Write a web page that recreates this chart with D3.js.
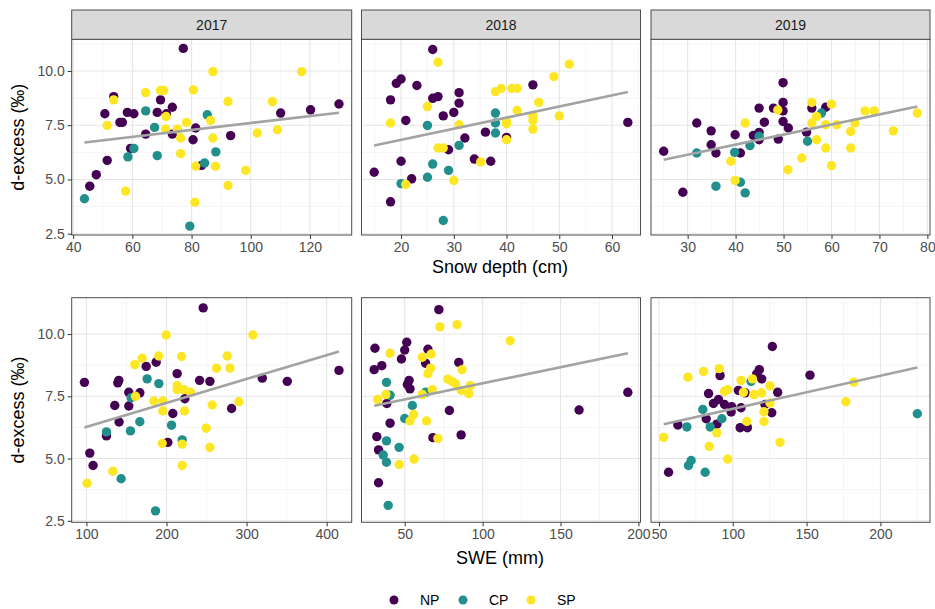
<!DOCTYPE html>
<html>
<head>
<meta charset="utf-8">
<script src="https://cdn.jsdelivr.net/npm/d3@7"></script>
<style>
  body { margin: 0; background: #fff; }
  text { font-family: "Liberation Sans", Arial, sans-serif; }
</style>
</head>
<body>
<svg id="chart" width="935" height="609"></svg>
<script>
// sites and their colours (viridis, 3 levels)
var sites = ["NP", "CP", "SP"];
var siteColors = ["#440154", "#21908C", "#FDE725"];
var years = ["2017", "2018", "2019"];

// tick labels
var yTicks = [2.5, 5.0, 7.5, 10.0];
var depthTicks2017 = [40, 60, 80, 100, 120];
var depthTicks2018 = [20, 30, 40, 50, 60];
var depthTicks2019 = [30, 40, 50, 60, 70, 80];
var sweTicks2017 = [100, 200, 300, 400];
var sweTicks2018 = [50, 100, 150, 200];
var sweTicks2019 = [50, 100, 150, 200];

// snow depth (cm) vs d-excess, [x, y]
var depth2017NP = [[77.2,11.04],[53.7,8.82],[50.7,8.03],[58.3,8.09],[60.5,8.03],[55.8,7.63],[56.6,7.63],[69.5,8.67],[68.4,8.09],[71.5,8.03],[73.5,8.33],[64.5,7.09],[73.5,7.09],[81.4,7.37],[80.5,6.83],[59.4,6.43],[51.5,5.88],[47.8,5.22],[45.6,4.69],[83.4,5.65],[93.2,7.02],[110.1,8.06],[120.2,8.21],[129.8,8.48]];
var depth2017CP = [[43.8,4.11],[58.5,6.04],[60.5,6.43],[64.5,8.16],[67.5,7.40],[68.4,6.10],[85.3,7.98],[84.4,5.76],[88.2,6.27],[79.4,2.85]];
var depth2017SP = [[53.7,8.67],[51.5,7.49],[64.5,9.0],[69.5,9.1],[70.6,9.1],[71.4,7.9],[71.2,7.32],[75.2,7.32],[78.3,7.63],[76.3,6.91],[76.3,6.19],[80.6,9.13],[87.2,9.97],[86.4,7.72],[87.2,6.91],[81.4,5.61],[88.1,5.61],[81.1,3.95],[57.7,4.46],[92.3,8.59],[92.3,4.72],[98.3,5.42],[102.2,7.14],[107.3,8.59],[109.0,7.29],[117.2,9.97]];

var depth2018NP = [[26.0,10.99],[20,9.63],[19.1,9.43],[23.0,9.33],[18.0,8.67],[26.0,8.74],[27.0,8.82],[31.0,9.0],[31.0,8.52],[30.0,8.09],[28.0,7.93],[20.9,7.72],[45.0,9.36],[36.0,7.18],[32.1,6.91],[40.0,6.94],[29.0,6.37],[33.9,5.94],[37.0,5.84],[20,5.84],[14.9,5.33],[22.0,5.03],[18.0,3.97],[63.0,7.63]];
var depth2018CP = [[25.0,7.49],[37.9,8.06],[37.9,7.60],[37.9,7.14],[31.0,6.57],[26.0,5.71],[29.0,5.42],[25.0,5.10],[20.0,4.81],[28.0,3.11]];
var depth2018SP = [[27.0,10.40],[18.0,7.60],[25.0,8.36],[27.0,6.45],[28.0,6.45],[31.0,7.52],[35.1,5.81],[30.0,4.95],[20.9,4.77],[37.9,9.05],[39.0,9.20],[41.0,9.20],[42.0,9.20],[42.0,8.18],[40.0,7.67],[40.0,7.57],[40.0,6.83],[45.0,7.93],[45.0,7.72],[45.0,7.32],[46.1,8.55],[49.0,9.74],[50.0,7.93],[51.9,10.31]];

var depth2019NP = [[25.0,6.30],[31.9,7.60],[34.9,7.24],[34.9,6.60],[35.9,6.22],[29.0,4.41],[39.9,7.06],[41.0,6.22],[43.7,7.03],[44.9,8.29],[44.9,7.17],[44.9,6.83],[46.0,7.64],[47.9,8.29],[48.9,6.86],[49.9,9.46],[49.9,8.55],[49.9,8.16],[49.9,7.67],[51.0,7.37],[54.8,7.18],[55.9,8.29],[58.8,8.33]];
var depth2019CP = [[31.9,6.22],[39.8,6.25],[43.0,6.56],[44.9,6.99],[41.0,4.87],[35.9,4.69],[42.0,4.38],[55.0,6.76],[57.9,8.06]];
var depth2019SP = [[42.0,7.60],[39.0,5.84],[39.9,4.95],[48.8,8.2],[55.9,8.55],[56.9,7.9],[55.9,7.60],[60.0,8.47],[58.8,7.52],[61.1,7.52],[56.9,6.83],[58.8,6.45],[53.8,5.99],[50.9,5.45],[60.0,5.64],[64.9,7.60],[64.0,7.21],[64.0,6.45],[67.0,8.16],[68.9,8.16],[72.9,7.24],[77.9,8.06]];

// SWE (mm) vs d-excess, [x, y]
var swe2017NP = [[245.8,11.05],[97.5,8.06],[140.4,8.14],[139.2,8.04],[152.9,7.66],[166.7,7.64],[135.4,7.13],[152.9,7.11],[140.8,6.47],[174.6,8.70],[187.1,8.87],[213.3,8.41],[241.3,8.14],[254.2,8.10],[222.9,7.40],[207.9,6.81],[201.7,5.65],[125.0,5.91],[104.2,5.22],[108.3,4.72],[281.3,7.01],[319.6,8.23],[350.8,8.10],[415.4,8.54]];
var swe2017CP = [[125,6.07],[155.8,7.44],[155,6.11],[166.7,6.48],[175.8,8.20],[190.4,8.01],[206.3,6.34],[219.6,5.75],[143.3,4.19],[186.3,2.90]];
var swe2017SP = [[100.8,4.01],[132.9,4.49],[160.4,8.77],[169.6,9.03],[190.4,9.12],[199.6,9.96],[218.8,9.10],[161.3,7.5],[184.2,7.31],[195.4,7.31],[195.4,6.91],[194.6,5.61],[213.3,7.93],[213.3,7.77],[221.7,7.77],[230,7.66],[222.5,6.91],[219.6,5.58],[219.6,4.72],[249.6,6.22],[254.2,5.45],[257.1,7.15],[262.5,8.63],[275.8,9.12],[279.2,8.63],[290.4,7.28],[307.9,9.96]];

var swe2018NP = [[71.9,10.98],[30.9,9.43],[51.3,9.67],[50,9.36],[47.9,9.0],[30.4,8.57],[35.3,8.73],[64.9,9.39],[63.4,8.83],[84.7,8.86],[52.8,8.14],[51.7,7.97],[53.4,7.80],[38.5,7.21],[40.6,6.42],[78.7,6.93],[32.1,5.88],[33.2,5.35],[68.1,5.84],[86.2,5.95],[33.2,4.03],[161.9,6.95],[193.2,7.66]];
var swe2018CP = [[38.3,8.06],[40.6,7.54],[54.9,7.13],[50,6.61],[63.4,7.66],[38.3,5.71],[46.4,5.45],[36.2,5.14],[38.3,4.85],[39.4,3.12]];
var swe2018SP = [[72.6,10.29],[83.6,10.38],[117.7,9.73],[40.6,9.23],[61.3,9.07],[67.0,9.20],[66.6,8.63],[64.9,8.41],[86.8,8.57],[77.7,8.19],[80.4,8.10],[82.6,8.01],[92.1,7.93],[86.2,7.74],[91.1,7.61],[67.7,7.77],[61.3,7.57],[32.6,7.37],[37.9,7.57],[55.7,6.77],[53.4,6.51],[64.0,6.51],[71.3,5.81],[56.0,4.98],[46.4,4.76]];

var swe2019NP = [[126.8,9.50],[118.0,8.57],[116.2,8.40],[119.6,8.20],[91.4,8.33],[152.3,8.35],[83.6,7.61],[103.8,7.74],[108.3,7.64],[130.4,7.66],[86.9,7.21],[90.3,7.37],[94.4,7.17],[99.3,7.08],[98.9,6.87],[105.6,7.04],[121.8,7.17],[126.4,6.84],[82.0,6.60],[89.2,6.38],[105.0,6.24],[109.9,6.24],[62.8,6.35],[56.5,4.45]];
var swe2019CP = [[68.9,6.27],[79.7,6.97],[84.7,6.27],[92.6,6.60],[112.4,8.10],[71.8,4.92],[70.0,4.72],[81.3,4.45],[225,6.80]];
var swe2019SP = [[69.6,8.27],[80.2,8.50],[90.8,8.61],[105.6,8.14],[113.3,8.20],[94.4,7.70],[96.6,7.77],[107.2,7.66],[114.4,7.57],[119.6,7.64],[125.2,7.92],[125.2,7.23],[121.1,6.88],[121.1,6.49],[109.5,6.49],[89.2,6.03],[53.2,5.85],[84.0,5.49],[96.6,4.98],[132.0,5.65],[176.6,7.28],[182.0,8.07]];

// layout
var colX = [[71.7, 351.7], [361.5, 640.5], [651, 930]];
var rowY = [[39.3, 235], [297.7, 522.3]];
var stripTop = 10;

var panels = [
  {row: 0, col: 0, strip: years[0], groups: [depth2017NP, depth2017CP, depth2017SP], ticks: depthTicks2017},
  {row: 0, col: 1, strip: years[1], groups: [depth2018NP, depth2018CP, depth2018SP], ticks: depthTicks2018},
  {row: 0, col: 2, strip: years[2], groups: [depth2019NP, depth2019CP, depth2019SP], ticks: depthTicks2019},
  {row: 1, col: 0, groups: [swe2017NP, swe2017CP, swe2017SP], ticks: sweTicks2017},
  {row: 1, col: 1, groups: [swe2018NP, swe2018CP, swe2018SP], ticks: sweTicks2018},
  {row: 1, col: 2, groups: [swe2019NP, swe2019CP, swe2019SP], ticks: sweTicks2019}
];

var svg = d3.select("#chart");

// ggplot style 5% expansion
function expand(ext) {
  var pad = (ext[1] - ext[0]) * 0.05;
  return [ext[0] - pad, ext[1] + pad];
}

function minors(majors, domain) {
  var step = majors[1] - majors[0];
  var out = [];
  for (var v = majors[0] - step / 2; v <= domain[1]; v += step) {
    if (v >= domain[0]) out.push(v);
  }
  return out;
}

// shared y
var allY = [];
panels.forEach(function(p) {
  p.groups.forEach(function(g) { g.forEach(function(d) { allY.push(d[1]); }); });
});
var yDomain = expand(d3.extent(allY));
var yMinor = minors(yTicks, yDomain);

panels.forEach(function(p) {
  var x0 = colX[p.col][0], x1 = colX[p.col][1];
  var y0 = rowY[p.row][0], y1 = rowY[p.row][1];
  var all = d3.merge(p.groups);

  var xScale = d3.scaleLinear()
    .domain(expand(d3.extent(all, function(d) { return d[0]; })))
    .range([x0, x1]);
  var yScale = d3.scaleLinear()
    .domain(yDomain)
    .range([y1, y0]);

  var g = svg.append("g");

  g.append("rect")
    .attr("x", x0).attr("y", y0)
    .attr("width", x1 - x0).attr("height", y1 - y0)
    .attr("fill", "#fff");

  // minor grid
  minors(p.ticks, xScale.domain()).forEach(function(v) {
    g.append("line")
      .attr("x1", xScale(v)).attr("x2", xScale(v))
      .attr("y1", y0).attr("y2", y1)
      .attr("stroke", "#f0f0f0").attr("stroke-width", 0.7);
  });
  yMinor.forEach(function(v) {
    g.append("line")
      .attr("x1", x0).attr("x2", x1)
      .attr("y1", yScale(v)).attr("y2", yScale(v))
      .attr("stroke", "#f0f0f0").attr("stroke-width", 0.7);
  });
  // major grid
  p.ticks.forEach(function(v) {
    g.append("line")
      .attr("x1", xScale(v)).attr("x2", xScale(v))
      .attr("y1", y0).attr("y2", y1)
      .attr("stroke", "#e6e6e6").attr("stroke-width", 1.1);
  });
  yTicks.forEach(function(v) {
    g.append("line")
      .attr("x1", x0).attr("x2", x1)
      .attr("y1", yScale(v)).attr("y2", yScale(v))
      .attr("stroke", "#e6e6e6").attr("stroke-width", 1.1);
  });

  // points
  p.groups.forEach(function(grp, i) {
    g.selectAll(null)
      .data(grp)
      .enter()
      .append("circle")
      .attr("cx", function(d) { return xScale(d[0]); })
      .attr("cy", function(d) { return yScale(d[1]); })
      .attr("r", 4.7)
      .attr("fill", siteColors[i]);
  });

  // linear fit over all sites
  var mx = d3.mean(all, function(d) { return d[0]; });
  var my = d3.mean(all, function(d) { return d[1]; });
  var sxy = d3.sum(all, function(d) { return (d[0] - mx) * (d[1] - my); });
  var sxx = d3.sum(all, function(d) { return (d[0] - mx) * (d[0] - mx); });
  var slope = sxy / sxx;
  var xe = d3.extent(all, function(d) { return d[0]; });
  var fit = xe.map(function(v) { return [v, my + slope * (v - mx)]; });
  g.append("path")
    .datum(fit)
    .attr("d", d3.line()
      .x(function(d) { return xScale(d[0]); })
      .y(function(d) { return yScale(d[1]); }))
    .attr("fill", "none")
    .attr("stroke", "#a3a3a3")
    .attr("stroke-width", 2.6);

  // border
  g.append("rect")
    .attr("x", x0).attr("y", y0)
    .attr("width", x1 - x0).attr("height", y1 - y0)
    .attr("fill", "none")
    .attr("stroke", "#4d4d4d").attr("stroke-width", 1);

  // strip
  if (p.strip) {
    g.append("rect")
      .attr("x", x0).attr("y", stripTop)
      .attr("width", x1 - x0).attr("height", y0 - stripTop)
      .attr("fill", "#d9d9d9")
      .attr("stroke", "#4d4d4d").attr("stroke-width", 1);
    g.append("text")
      .attr("x", (x0 + x1) / 2).attr("y", (stripTop + y0) / 2)
      .attr("dy", "0.35em")
      .attr("text-anchor", "middle")
      .attr("font-size", 14)
      .attr("fill", "#1a1a1a")
      .text(p.strip);
  }

  // x axis
  var xAxis = g.append("g")
    .attr("transform", "translate(0," + y1 + ")")
    .call(d3.axisBottom(xScale).tickValues(p.ticks).tickSize(4).tickPadding(3));
  xAxis.select(".domain").remove();
  xAxis.selectAll(".tick line").attr("stroke", "#333");
  xAxis.selectAll(".tick text")
    .attr("fill", "#4d4d4d")
    .attr("font-size", 14)
    .attr("font-family", "Liberation Sans, Arial, sans-serif");

  // y axis on left column only
  if (p.col === 0) {
    var yAxis = g.append("g")
      .attr("transform", "translate(" + x0 + ",0)")
      .call(d3.axisLeft(yScale).tickValues(yTicks).tickFormat(d3.format(".1f")).tickSize(4).tickPadding(3));
    yAxis.select(".domain").remove();
    yAxis.selectAll(".tick line").attr("stroke", "#333");
    yAxis.selectAll(".tick text")
      .attr("fill", "#4d4d4d")
      .attr("font-size", 14)
      .attr("font-family", "Liberation Sans, Arial, sans-serif");

    svg.append("text")
      .attr("transform", "translate(24," + ((y0 + y1) / 2) + ") rotate(-90)")
      .attr("text-anchor", "middle")
      .attr("font-size", 18)
      .attr("fill", "#000")
      .text("d-excess (‰)");
  }
});

// x axis titles
svg.append("text")
  .attr("x", 500).attr("y", 273)
  .attr("text-anchor", "middle")
  .attr("font-size", 18)
  .text("Snow depth (cm)");

svg.append("text")
  .attr("x", 500).attr("y", 564)
  .attr("text-anchor", "middle")
  .attr("font-size", 18)
  .text("SWE (mm)");

// legend
var legendX = [394, 463, 531];
var legend = svg.append("g");
sites.forEach(function(s, i) {
  legend.append("circle")
    .attr("cx", legendX[i]).attr("cy", 600)
    .attr("r", 4.5)
    .attr("fill", siteColors[i]);
  legend.append("text")
    .attr("x", legendX[i] + 26).attr("y", 600)
    .attr("dy", "0.35em")
    .attr("font-size", 14)
    .attr("fill", "#000")
    .text(s);
});
</script>
</body>
</html>
